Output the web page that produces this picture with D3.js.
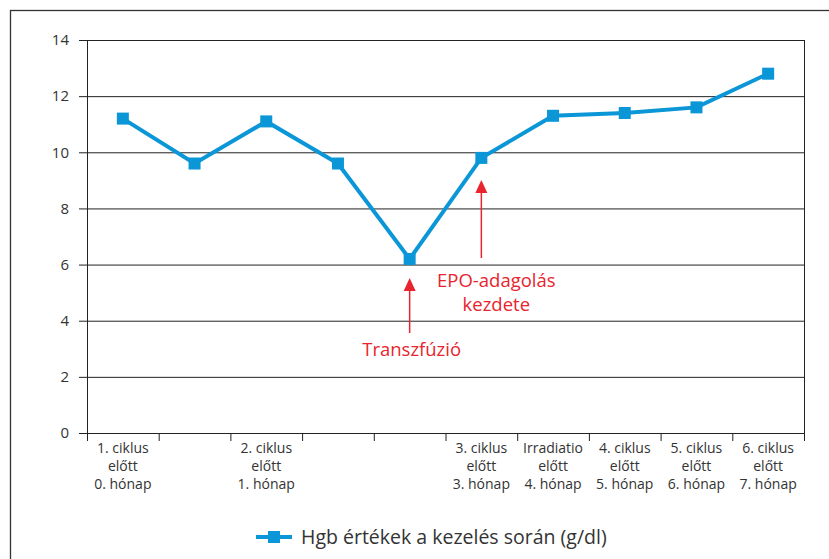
<!DOCTYPE html>
<html>
<head>
<meta charset="utf-8">
<script src="https://cdn.jsdelivr.net/npm/d3@7"></script>
<style>
  body { margin: 0; background: #fff; }
  svg { font-family: "Open Sans", "Noto Sans", sans-serif; }
</style>
</head>
<body>
<div id="chart"></div>
<script>
const categories = [
  ['1. ciklus', 'előtt', '0. hónap'],
  ['', '', ''],
  ['2. ciklus', 'előtt', '1. hónap'],
  ['', '', ''],
  ['', '', ''],
  ['3. ciklus', 'előtt', '3. hónap'],
  ['Irradiatio', 'előtt', '4. hónap'],
  ['4. ciklus', 'előtt', '5. hónap'],
  ['5. ciklus', 'előtt', '6. hónap'],
  ['6. ciklus', 'előtt', '7. hónap']
];
const hgbValues = [11.2, 9.6, 11.1, 9.6, 6.2, 9.8, 11.3, 11.4, 11.6, 12.8];
const yTicks = [0, 2, 4, 6, 8, 10, 12, 14];
const seriesName = 'Hgb értékek a kezelés során (g/dl)';
const annotations = [
  { index: 4, lines: ['Transzfúzió'], tipY: 278, tailY: 333, textY: 356, dx: 2 },
  { index: 5, lines: ['EPO-adagolás', 'kezdete'], tipY: 180, tailY: 258, textY: 287, dx: 15 }
];

const W = 829, H = 559;
const margin = { top: 40, left: 87, right: 25, bottom: 126 };
const width = W - margin.left - margin.right;
const height = H - margin.top - margin.bottom;
const blue = '#0a96d7', red = '#e8242e', ink = '#333';

const svg = d3.select('#chart').append('svg').attr('width', W).attr('height', H);
svg.append('rect').attr('x', 10.5).attr('y', 10.5).attr('width', W).attr('height', H)
  .attr('fill', 'none').attr('stroke', '#333').attr('stroke-width', 1.3);

const g = svg.append('g').attr('transform', `translate(${margin.left},${margin.top})`);

const keys = d3.range(categories.length);
const x = d3.scaleBand().domain(keys).range([0, width]);
const y = d3.scaleLinear().domain([0, 14]).range([height, 0]);

// grid
g.selectAll('.grid').data(yTicks).enter().append('line')
  .attr('x1', 0).attr('x2', width).attr('y1', d => y(d) + 0.5).attr('y2', d => y(d) + 0.5)
  .attr('stroke', '#222').attr('stroke-width', 1);
g.append('line').attr('x1', width + 0.5).attr('x2', width + 0.5).attr('y1', 0).attr('y2', height)
  .attr('stroke', '#222');

// y axis
const yAxis = g.append('g').call(d3.axisLeft(y).tickValues(yTicks).tickSize(8).tickPadding(10));
yAxis.select('.domain').attr('stroke', '#222');
yAxis.selectAll('line').attr('stroke', '#222');
yAxis.selectAll('text').attr('font-size', 15).attr('fill', ink).attr('font-family', '"Open Sans", sans-serif');

// x axis: ticks at band boundaries
const xAxisG = g.append('g').attr('transform', `translate(0,${height})`);
xAxisG.append('line').attr('x1', -8).attr('x2', width).attr('y1', 0.5).attr('y2', 0.5).attr('stroke', '#222');
xAxisG.selectAll('.xt').data(d3.range(categories.length + 1)).enter().append('line')
  .attr('x1', i => (i < categories.length ? x(i) : width) + 0.5)
  .attr('x2', i => (i < categories.length ? x(i) : width) + 0.5)
  .attr('y1', 0).attr('y2', 8).attr('stroke', '#222');
xAxisG.selectAll('.xl').data(keys).enter().append('text')
  .attr('x', i => x(i) + x.bandwidth() / 2).attr('y', 20)
  .attr('text-anchor', 'middle').attr('font-size', 14).attr('fill', ink)
  .each(function(i) {
    const el = d3.select(this);
    categories[i].forEach((line, k) => {
      el.append('tspan').attr('x', x(i) + x.bandwidth() / 2).attr('dy', k === 0 ? 0 : 18).text(line);
    });
  });

// line
const line = d3.line().x((_, i) => x(i) + x.bandwidth() / 2).y(d => y(d));
g.append('path').datum(hgbValues).attr('d', line).attr('fill', 'none')
  .attr('stroke', blue).attr('stroke-width', 4).attr('stroke-linejoin', 'miter');
g.selectAll('.pt').data(hgbValues).enter().append('rect')
  .attr('x', (_, i) => x(i) + x.bandwidth() / 2 - 6).attr('y', d => y(d) - 6)
  .attr('width', 12).attr('height', 12).attr('fill', blue);

// annotations
annotations.forEach(a => {
  const cx = margin.left + x(a.index) + x.bandwidth() / 2;
  svg.append('line').attr('x1', cx).attr('x2', cx).attr('y1', a.tipY + 10).attr('y2', a.tailY)
    .attr('stroke', red).attr('stroke-width', 1.5);
  svg.append('path').attr('d', `M${cx},${a.tipY} L${cx - 6},${a.tipY + 13} L${cx + 6},${a.tipY + 13} Z`).attr('fill', red);
  const t = svg.append('text').attr('x', cx + a.dx).attr('y', a.textY).attr('text-anchor', 'middle')
    .attr('font-size', 18.5).attr('fill', red);
  a.lines.forEach((l, k) => t.append('tspan').attr('x', cx + a.dx).attr('dy', k === 0 ? 0 : 24).text(l));
});

// legend
const lg = svg.append('g').attr('transform', 'translate(256,537)');
lg.append('line').attr('x1', 0).attr('x2', 36).attr('y1', 0).attr('y2', 0).attr('stroke', blue).attr('stroke-width', 4);
lg.append('rect').attr('x', 12).attr('y', -6).attr('width', 12).attr('height', 12).attr('fill', blue);
lg.append('text').attr('x', 45).attr('y', 7).attr('font-size', 19.5).attr('fill', ink).text(seriesName);
</script>
</body>
</html>
